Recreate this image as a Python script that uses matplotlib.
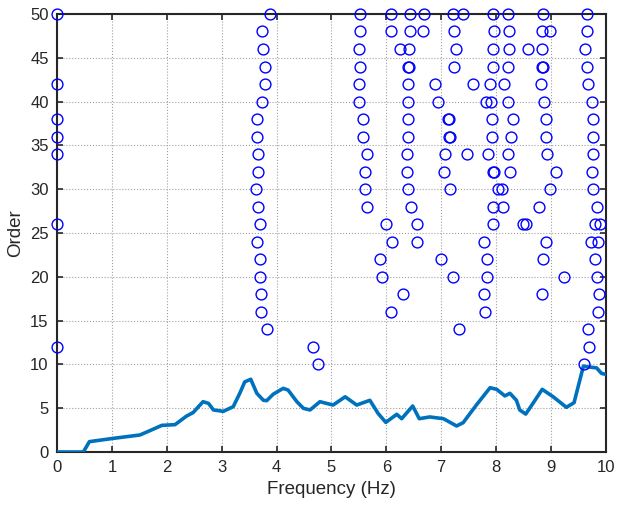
import numpy as np
import matplotlib
matplotlib.use('Agg')
import matplotlib.pyplot as plt

plt.rcParams['font.family'] = ['Liberation Sans', 'DejaVu Sans']

# 안정화 다이어그램 - 극점 (주파수, 차수)
pole_freq = [
    0, 3.88, 5.52, 6.08, 6.43, 6.68, 7.21, 7.39, 7.94, 8.21, 8.86, 9.65,   # 50
    3.74, 5.52, 6.08, 6.43, 6.66, 7.24, 7.96, 8.23, 8.83, 8.98, 9.65,      # 48
    3.76, 5.50, 6.24, 6.42, 7.26, 7.94, 8.23, 8.58, 8.84, 9.62,            # 46
    3.79, 5.52, 6.39, 6.41, 7.24, 7.94, 8.21, 8.84, 8.86, 9.65,            # 44
    0, 3.79, 5.50, 6.40, 6.89, 7.58, 7.89, 8.14, 8.81, 9.67,               # 42
    3.74, 5.50, 6.40, 6.95, 7.81, 7.90, 8.21, 8.88, 9.74,                  # 40
    0, 3.65, 5.57, 6.40, 7.12, 7.14, 7.92, 8.31, 8.91, 9.76,               # 38
    0, 3.65, 5.57, 6.40, 7.14, 7.16, 7.92, 8.28, 8.91, 9.76,               # 36
    0, 3.67, 5.64, 6.38, 7.07, 7.47, 7.86, 8.21, 8.93, 9.76,               # 34
    3.67, 5.61, 6.38, 7.05, 7.95, 7.97, 8.26, 9.09, 9.75,                  # 32
    3.62, 5.61, 6.40, 7.16, 8.03, 8.10, 8.98, 9.76,                        # 30
    3.67, 5.64, 6.45, 7.94, 8.12, 8.78, 9.84,                              # 28
    0, 3.70, 5.99, 6.56, 7.94, 8.49, 8.54, 9.81, 9.90,                     # 26
    3.65, 6.10, 6.56, 7.78, 8.91, 9.72, 9.86,                              # 24
    3.70, 5.88, 6.99, 7.83, 8.86, 9.81,                                    # 22
    3.70, 5.92, 7.21, 7.83, 9.23, 9.83,                                    # 20
    3.72, 6.31, 7.78, 8.84, 9.88,                                          # 18
    3.72, 6.08, 7.80, 9.86,                                                # 16
    3.83, 7.33, 9.68,                                                      # 14
    0, 4.67, 9.70,                                                         # 12
    4.76, 9.60,                                                            # 10
]
pole_count = [12, 11, 10, 10, 10, 9, 10, 10, 10, 9, 8, 7, 9, 7, 6, 6, 5, 4, 3, 3, 2]
orders = list(range(50, 8, -2))
pole_order = np.repeat(orders, pole_count)

# 곡선 데이터
curve_freq = [0, 0.48, 0.59, 1.03, 1.51, 1.69, 1.91, 2.15, 2.36, 2.48, 2.66, 2.76,
              2.85, 3.03, 3.21, 3.33, 3.42, 3.53, 3.64, 3.76, 3.82, 3.94, 4.12,
              4.21, 4.37, 4.49, 4.61, 4.79, 5.03, 5.25, 5.46, 5.70, 5.85, 5.99,
              6.19, 6.28, 6.48, 6.60, 6.79, 7.04, 7.28, 7.40, 7.64, 7.89, 8.01,
              8.16, 8.25, 8.37, 8.43, 8.54, 8.68, 8.84, 9.04, 9.28, 9.42, 9.59,
              9.65, 9.83, 9.92, 10.0]
curve_val = [0, 0, 1.18, 1.56, 1.94, 2.43, 3.04, 3.12, 4.1, 4.5, 5.74, 5.55,
             4.8, 4.64, 5.17, 6.7, 8.0, 8.3, 6.7, 5.9, 5.86, 6.6, 7.26,
             7.07, 5.74, 4.98, 4.8, 5.74, 5.36, 6.3, 5.36, 5.9, 4.4, 3.38,
             4.3, 3.8, 5.25, 3.8, 4.0, 3.8, 2.97, 3.35, 5.36, 7.34, 7.15,
             6.4, 6.7, 5.9, 4.8, 4.33, 5.63, 7.15, 6.3, 5.1, 5.63, 9.8,
             9.73, 9.6, 8.97, 8.86]

fig = plt.figure(figsize=(6.17, 5.07), dpi=100)
ax = fig.add_axes([0.0924, 0.1085, 0.8896, 0.864])

ax.plot(curve_freq, curve_val, color='#0072BD', linewidth=2.6, zorder=3)
ax.plot(pole_freq, pole_order, 'o', markersize=7.8, markerfacecolor='none',
        markeredgecolor='#0000FF', markeredgewidth=1.0, clip_on=False, zorder=4)

ax.set_xlim(0, 10)
ax.set_ylim(0, 50)
ax.set_xticks(range(0, 11))
ax.set_yticks(range(0, 51, 5))
ax.grid(True, linestyle=':', color='#a0a0a0', linewidth=0.8)
ax.tick_params(direction='in', top=True, right=True, length=4, width=1.2,
               labelsize=12, colors='#262626', pad=6)
for s in ax.spines.values():
    s.set_linewidth(1.5)
    s.set_color('#262626')

ax.set_xlabel('Frequency (Hz)', fontsize=13.5, color='#262626', labelpad=4)
ax.set_ylabel('Order', fontsize=13.5, color='#262626', labelpad=4)

plt.savefig('out.png', dpi=100)
